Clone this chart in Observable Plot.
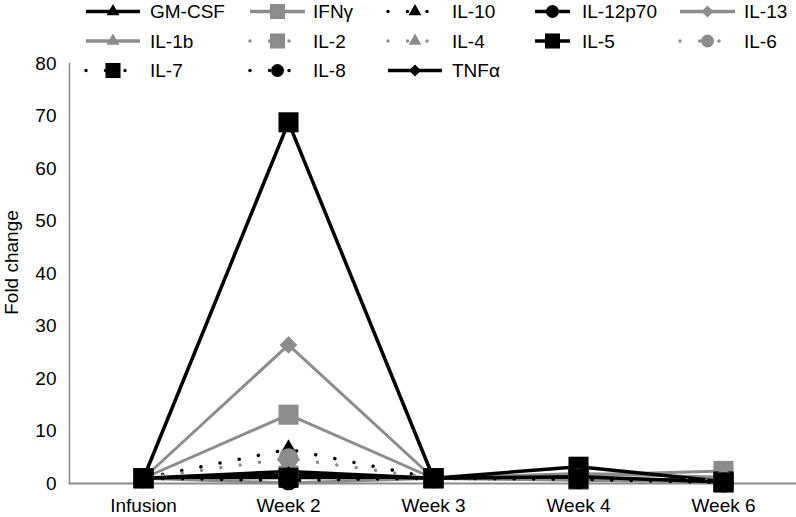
<!DOCTYPE html>
<html><head><meta charset="utf-8">
<script src="https://cdn.jsdelivr.net/npm/d3@7"></script>
<script src="https://cdn.jsdelivr.net/npm/@observablehq/plot@0.6"></script>
<style>
body{margin:0;background:#fff;}
#wrap{position:relative;width:796px;height:517px;font-family:"Liberation Sans",Arial,Helvetica,sans-serif;}
#legend{position:absolute;left:0;top:0;pointer-events:none;}
</style></head><body><div id="wrap"></div>
<script>
const timepoints = ["Infusion", "Week 2", "Week 3", "Week 4", "Week 6"];
const yTicks = [0, 10, 20, 30, 40, 50, 60, 70, 80];
const seriesNames = ["GM-CSF", "IFNγ", "IL-10", "IL-12p70", "IL-13", "IL-1b", "IL-2", "IL-4", "IL-5", "IL-6", "IL-7", "IL-8", "TNFα"];

const gmCsf   = [1, 2.3, 1, 0.9, 0.5];
const ifnG    = [1, 13.1, 1, 1.6, 2.4];
const il10    = [1, 6.5, 1, 0.8, 0.3];
const il12p70 = [1, 1.2, 1, 1.0, 0.4];
const il13    = [1, 26.4, 1, 1.9, 1.2];
const il1b    = [1, 0.1, 1, 0.6, 0.3];
const il2     = [1, 1.5, 1, 0.7, 0.2];
const il4     = [1, 0.2, 1, 0.9, 0.3];
const il5     = [1, 68.8, 1, 3.2, 0.4];
const il6     = [1, 4.8, 1, 1.0, 0.6];
const il7     = [1, 1.1, 1, 0.9, 0.2];
const il8     = [1, 0.6, 1, 0.8, 0.2];
const tnfA    = [1, 1.6, 1, 1.3, 0.3];
const seriesValues = [gmCsf, ifnG, il10, il12p70, il13, il1b, il2, il4, il5, il6, il7, il8, tnfA];

const BLACK = "#000000", GRAY = "#8c8c8c";
const seriesColor  = [BLACK, GRAY, BLACK, BLACK, GRAY, GRAY, GRAY, GRAY, BLACK, GRAY, BLACK, BLACK, BLACK];
const seriesDotted = [false, false, true, false, false, false, true, true, false, true, true, true, false];
const seriesSymbol = ["triangle", "square", "triangle", "circle", "diamond2", "triangle", "square", "triangle", "square", "circle", "square", "circle", "diamond2"];

const plotR   = {triangle: 6.5, square: 11.3, circle: 10, diamond2: 8};
const legendR = {triangle: 4.8, square: 8.5, circle: 6.5, diamond2: 5.4};

const rows = seriesNames.flatMap((name, i) =>
  timepoints.map((t, j) => ({series: name, time: t, value: seriesValues[i][j]})));

const FONT = "'Liberation Sans', Arial, Helvetica, sans-serif";
const marks = [
  Plot.frame({anchor: "left", stroke: GRAY, strokeWidth: 1.5}),
  Plot.frame({anchor: "bottom", stroke: GRAY, strokeWidth: 2}),
  Plot.axisY({ticks: yTicks, tickSize: 0, tickPadding: 13, label: null, fontSize: 19, tickFormat: d => String(d)}),
  Plot.axisX({tickSize: 0, tickPadding: 15, label: null, fontSize: 19}),
  Plot.text(["Fold change"], {frameAnchor: "left", textAnchor: "middle", dx: -58, dy: -11, rotate: -90, fontSize: 19, fill: BLACK})
];
seriesNames.forEach((name, i) => {
  const data = rows.filter(d => d.series === name);
  marks.push(Plot.line(data, {
    x: "time", y: "value",
    stroke: seriesColor[i],
    strokeWidth: seriesDotted[i] ? 3.5 : (seriesColor[i] === BLACK ? 3.5 : 3),
    strokeDasharray: seriesDotted[i] ? "0.01 19.5" : null,
    strokeLinecap: seriesDotted[i] ? "round" : "butt",
    strokeLinejoin: "miter"
  }));
});
seriesNames.forEach((name, i) => {
  const data = rows.filter(d => d.series === name);
  marks.push(Plot.dot(data, {
    x: "time", y: "value",
    symbol: seriesSymbol[i],
    r: plotR[seriesSymbol[i]],
    fill: seriesColor[i],
    stroke: "none"
  }));
});

const chart = Plot.plot({
  width: 796, height: 517,
  marginLeft: 69, marginRight: 0, marginTop: 63, marginBottom: 34,
  style: {fontFamily: FONT, fontSize: "19px", color: "#000", background: "#fff"},
  x: {type: "point", domain: timepoints, padding: 0.5},
  y: {domain: [0, 80]},
  marks
});
const wrap = document.getElementById("wrap");
wrap.appendChild(chart);

// Legend (3 rows x 5 columns)
const legendCols = [
  {x0: 86, x1: 140, tx: 150},
  {x0: 250, x1: 305, tx: 313},
  {x0: 388, x1: 442, tx: 452},
  {x0: 535, x1: 570, tx: 582},
  {x0: 680, x1: 735, tx: 744}
];
const legendRows = [11.5, 41, 70.5];
const symMap = {triangle: d3.symbolTriangle, square: d3.symbolSquare, circle: d3.symbolCircle, diamond2: d3.symbolDiamond2};

const lg = d3.select(wrap).append("svg")
  .attr("id", "legend").attr("width", 796).attr("height", 90)
  .style("font-family", FONT).style("font-size", "19px");
seriesNames.forEach((name, i) => {
  const c = legendCols[i % 5], y = legendRows[Math.floor(i / 5)];
  const g = lg.append("g");
  g.append("line")
    .attr("x1", c.x0).attr("x2", c.x1).attr("y1", y).attr("y2", y)
    .attr("stroke", seriesColor[i])
    .attr("stroke-width", 3.5)
    .attr("stroke-dasharray", seriesDotted[i] ? "0.01 19.5" : null)
    .attr("stroke-linecap", seriesDotted[i] ? "round" : "butt");
  const r = legendR[seriesSymbol[i]];
  g.append("path")
    .attr("transform", `translate(${(c.x0 + c.x1) / 2},${y})`)
    .attr("d", d3.symbol(symMap[seriesSymbol[i]], Math.PI * r * r)())
    .attr("fill", seriesColor[i]);
  g.append("text")
    .attr("x", c.tx).attr("y", y).attr("dy", "0.35em")
    .attr("fill", "#000")
    .text(name);
});
</script>
</body></html>
